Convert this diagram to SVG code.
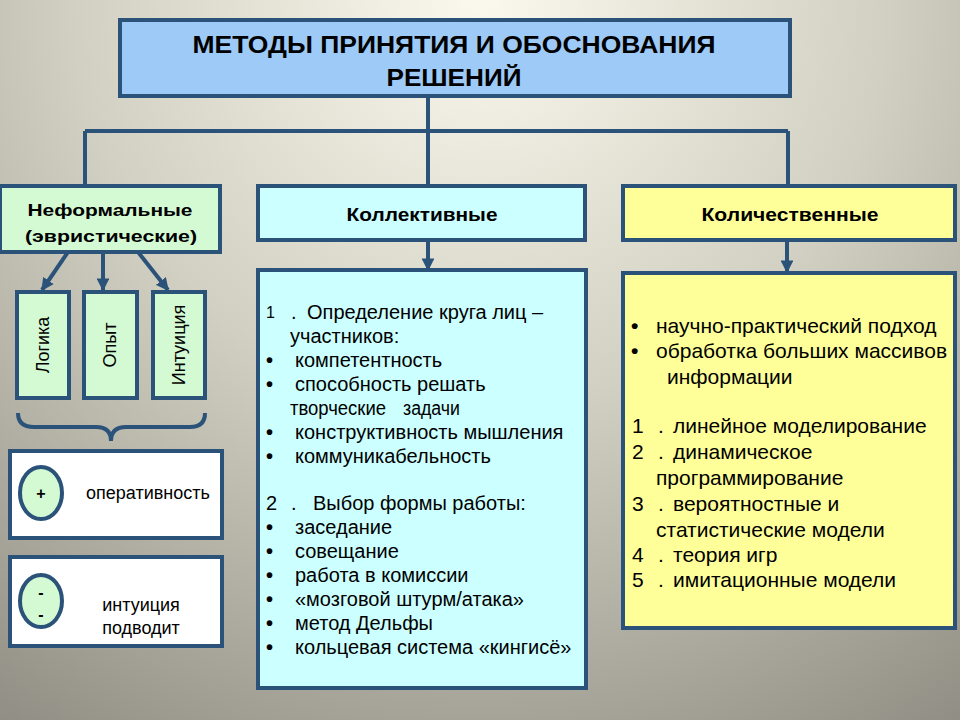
<svg xmlns="http://www.w3.org/2000/svg" width="960" height="720" viewBox="0 0 960 720">
<defs>
<radialGradient id="bg" cx="480" cy="0" r="900" gradientUnits="userSpaceOnUse">
<stop offset="0" stop-color="#fbf9ee"/>
<stop offset="0.45" stop-color="#d2d0c2"/>
<stop offset="1" stop-color="#8c8a80"/>
</radialGradient>
<marker id="arr" viewBox="0 0 10 10" refX="9" refY="5" markerWidth="3.2" markerHeight="3.2" orient="auto" markerUnits="strokeWidth">
<path d="M0,0 L10,5 L0,10 z" fill="#2b5279"/>
</marker>
<style>
.box{stroke:#2b5279;stroke-width:4}
.ln{stroke:#2b5279;stroke-width:4;fill:none}
text{font-family:"Liberation Sans",Arial,sans-serif;fill:#000}
.b{font-weight:bold}
.t{font-size:18px}
.c{font-size:20px}
.q{font-size:21px}
.m{text-anchor:middle}
.bu{font-weight:bold}
</style>
</defs>
<rect width="960" height="720" fill="url(#bg)"/>

<g id="connectors">
<path class="ln" d="M428,96 V131 M85,131 H788 M85,131 V186 M428,131 V186 M788,131 V186"/>
<path class="ln" d="M428,240 V270" marker-end="url(#arr)"/>
<path class="ln" d="M787,240 V272" marker-end="url(#arr)"/>
<path class="ln" d="M68,252 L42,290" marker-end="url(#arr)"/>
<path class="ln" d="M103,252 V290" marker-end="url(#arr)"/>
<path class="ln" d="M138,252 L168,290" marker-end="url(#arr)"/>
<path class="ln" d="M18,413 Q18,427 34,427 H96 Q111,427 111,441 Q111,427 126,427 H190 Q205,427 205,413"/>
</g>

<g id="title">
<rect class="box" x="120" y="20" width="670" height="76" fill="#9dcaf7"/>
<text class="b m" x="454" y="53" font-size="24" textLength="523" lengthAdjust="spacingAndGlyphs">МЕТОДЫ ПРИНЯТИЯ И ОБОСНОВАНИЯ</text>
<text class="b m" x="454" y="86" font-size="24" textLength="135" lengthAdjust="spacingAndGlyphs">РЕШЕНИЙ</text>
</g>

<g id="informal">
<rect class="box" x="0" y="186" width="220" height="66" fill="#d4fad4"/>
<text class="b m" x="110" y="216" font-size="17" textLength="165" lengthAdjust="spacingAndGlyphs">Неформальные</text>
<text class="b m" x="111" y="242" font-size="17" textLength="172" lengthAdjust="spacingAndGlyphs">(эвристические)</text>
</g>

<g id="collective">
<rect class="box" x="258" y="186" width="327" height="54" fill="#ccffff"/>
<text class="b m" x="422" y="221" font-size="18" textLength="151" lengthAdjust="spacingAndGlyphs">Коллективные</text>
</g>

<g id="quantitative">
<rect class="box" x="623" y="186" width="332" height="54" fill="#ffff99"/>
<text class="b m" x="790" y="221" font-size="18" textLength="177" lengthAdjust="spacingAndGlyphs">Количественные</text>
</g>

<g id="logic">
<rect class="box" x="17" y="292" width="52" height="106" fill="#d4fad4"/>
<text class="t m" transform="translate(49,345) rotate(-90)">Логика</text>
</g>
<g id="experience">
<rect class="box" x="84" y="292" width="53" height="106" fill="#d4fad4"/>
<text class="t m" transform="translate(116,345) rotate(-90)">Опыт</text>
</g>
<g id="intuition">
<rect class="box" x="153" y="292" width="52" height="106" fill="#d4fad4"/>
<text class="t m" transform="translate(185,345) rotate(-90)">Интуиция</text>
</g>

<g id="plus">
<rect class="box" x="10" y="451" width="212" height="87" fill="#ffffff"/>
<ellipse class="box" cx="41" cy="493" rx="21" ry="26" fill="#d4fad4"/>
<text class="b m" x="41" y="499" font-size="16">+</text>
<text class="t m" x="148" y="499">оперативность</text>
</g>

<g id="minus">
<rect class="box" x="10" y="557" width="212" height="89" fill="#ffffff"/>
<ellipse class="box" cx="41" cy="601" rx="21" ry="26" fill="#d4fad4"/>
<text class="b m" x="41" y="598" font-size="16">-</text>
<text class="b m" x="41" y="620" font-size="16">-</text>
<text class="t m" x="141" y="611">интуиция</text>
<text class="t m" x="141" y="634">подводит</text>
</g>

<g id="collective-list">
<rect class="box" x="258" y="270" width="328" height="418" fill="#ccffff"/>
<g class="c">
<text x="266" y="318" font-size="16">1</text><text x="291" y="319">.</text><text x="307" y="319">Определение круга лиц –</text>
<text x="290" y="343">участников:</text>
<text class="bu" x="266" y="367">•</text><text x="295" y="367">компетентность</text>
<text class="bu" x="266" y="391">•</text><text x="295" y="391">способность решать</text>
<text x="290" y="415" textLength="96" lengthAdjust="spacingAndGlyphs">творческие</text><text x="403" y="415" textLength="57" lengthAdjust="spacingAndGlyphs">задачи</text>
<text class="bu" x="266" y="439">•</text><text x="295" y="439">конструктивность мышления</text>
<text class="bu" x="266" y="463">•</text><text x="295" y="463">коммуникабельность</text>
<text x="266" y="510">2</text><text x="291" y="510">.</text><text x="313" y="510">Выбор формы работы:</text>
<text class="bu" x="266" y="534">•</text><text x="295" y="534">заседание</text>
<text class="bu" x="266" y="558">•</text><text x="295" y="558">совещание</text>
<text class="bu" x="266" y="582">•</text><text x="295" y="582">работа в комиссии</text>
<text class="bu" x="266" y="606">•</text><text x="295" y="606">«мозговой штурм/атака»</text>
<text class="bu" x="266" y="630">•</text><text x="295" y="630">метод Дельфы</text>
<text class="bu" x="266" y="654">•</text><text x="295" y="654">кольцевая система «кингисё»</text>
</g>
</g>

<g id="quantitative-list">
<rect class="box" x="623" y="273" width="332" height="355" fill="#ffff99"/>
<g class="q">
<text class="bu" x="631" y="333">•</text><text x="656" y="333">научно-практический подход</text>
<text class="bu" x="631" y="358">•</text><text x="656" y="358">обработка больших массивов</text>
<text x="667" y="384">информации</text>
<text x="632" y="433">1</text><text x="658" y="433">.</text><text x="673" y="433">линейное моделирование</text>
<text x="632" y="459">2</text><text x="658" y="459">.</text><text x="673" y="459">динамическое</text>
<text x="656" y="485">программирование</text>
<text x="632" y="511">3</text><text x="658" y="511">.</text><text x="673" y="511">вероятностные и</text>
<text x="656" y="537">статистические модели</text>
<text x="632" y="562">4</text><text x="658" y="562">.</text><text x="673" y="562">теория игр</text>
<text x="632" y="587">5</text><text x="658" y="587">.</text><text x="673" y="587">имитационные модели</text>
</g>
</g>
</svg>
